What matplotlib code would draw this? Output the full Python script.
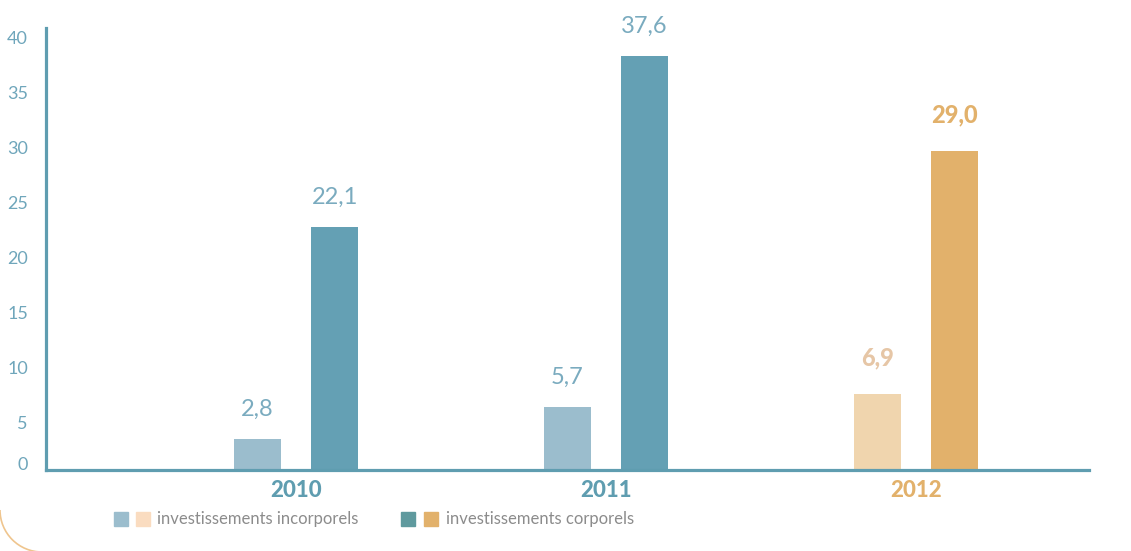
import numpy as np
import matplotlib.pyplot as plt
from matplotlib.patches import Arc, Rectangle

# data
years = ["2010", "2011", "2012"]
incorporels = [2.8, 5.7, 6.9]
corporels = [22.1, 37.6, 29.0]
tick_vals = [0, 5, 10, 15, 20, 25, 30, 35, 40]

# colours
blue_light = "#9bbdcd"
blue_dark = "#64a0b4"
peach = "#f0d5ae"
orange = "#e2b16b"
axis_col = "#5f9db0"
light_cols = [blue_light, blue_light, peach]
dark_cols = [blue_dark, blue_dark, orange]
label_cols_a = ["#7aabbf", "#7aabbf", "#e6c6a6"]
label_cols_b = ["#7aabbf", "#7aabbf", orange]
year_cols = [axis_col, axis_col, orange]

plt.rcParams['font.family'] = ['Lato', 'DejaVu Sans']

fig = plt.figure(figsize=(11.31, 5.51), dpi=100)
ax = fig.add_axes([46/1131, 81/551, 1043/1131, 442/551])

x = np.arange(len(years))
w = 0.152
off = 0.125
b1 = ax.bar(x - off, incorporels, w, color=light_cols, zorder=2)
b2 = ax.bar(x + off, corporels, w, color=dark_cols, zorder=2)

# value labels
for i in range(len(years)):
    bold = (i == 2)
    for bars, vals, cols in ((b1, incorporels, label_cols_a), (b2, corporels, label_cols_b)):
        r = bars[i]
        txt = f"{vals[i]:.1f}".replace(".", ",")
        ax.annotate(txt, (r.get_x() + r.get_width()/2, r.get_height()),
                    xytext=(0, 18 if bold else 14), textcoords="offset points",
                    ha="center", va="bottom", color=cols[i],
                    fontsize=17,
                    fontweight="black" if bold else "normal")

ax.set_xlim(-0.806, 2.558)
ax.set_ylim(0, 40.18)

# y tick labels sit a bit off the grid values in the original
tick_pos = [0.6] + [v - 0.7 for v in tick_vals[1:]]
ax.set_yticks(tick_pos)
ax.set_yticklabels([str(v) for v in tick_vals], fontsize=13, fontweight="normal",
                   color="#6fa6bb")
ax.tick_params(axis="y", length=0, pad=13)

ax.set_xticks(x)
ax.set_xticklabels(years, fontsize=16, fontweight="black")
for lab, c in zip(ax.get_xticklabels(), year_cols):
    lab.set_color(c)
ax.tick_params(axis="x", length=0, pad=7)

for s in ("top", "right"):
    ax.spines[s].set_visible(False)
for s in ("left", "bottom"):
    ax.spines[s].set_color(axis_col)
    ax.spines[s].set_linewidth(2.3)

# legend drawn by hand
def sq(xp, col):
    fig.patches.append(Rectangle((xp/1131, 1 - 526/551), 14/1131, 14/551,
                                 transform=fig.transFigure, color=col))

sq(114, blue_light)
sq(136, "#fadcc0")
sq(401, "#5f9a9e")
sq(424, orange)
fig.text(157/1131, 1 - 519/551, "investissements incorporels", fontsize=12,
         fontweight="normal", color="#8c8c8c", va="center")
fig.text(446/1131, 1 - 519/551, "investissements corporels", fontsize=12,
         fontweight="normal", color="#8c8c8c", va="center")

# decorative arc bottom left
fig.patches.append(Arc((42/1131, 1 - 510/551), 84/1131, 84/551, theta1=180, theta2=270,
                       transform=fig.transFigure, color="#efc58e", lw=1.2))

fig.savefig("out.png", dpi=100)
